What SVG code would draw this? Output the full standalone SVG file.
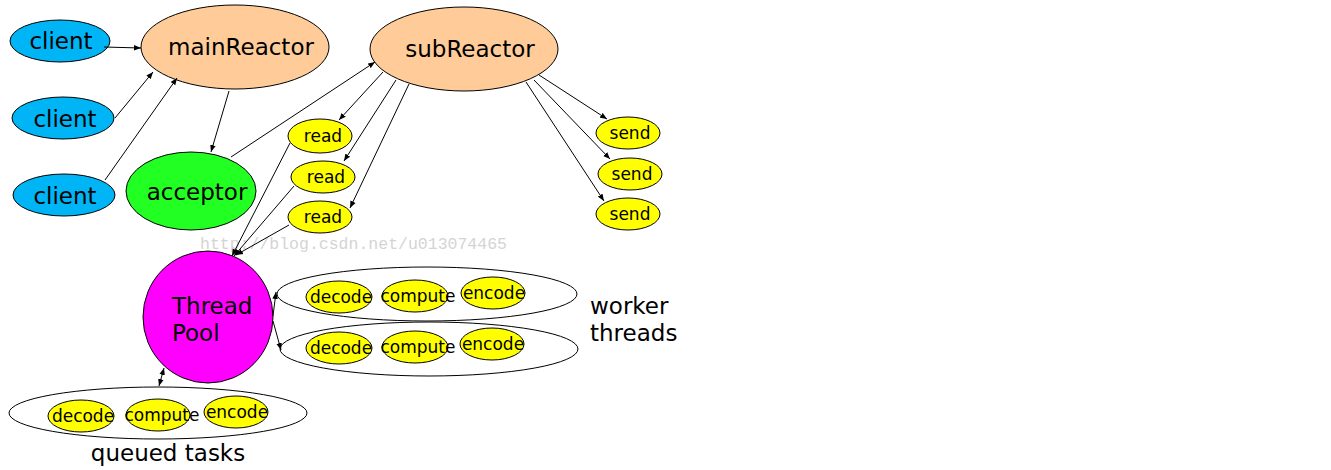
<svg xmlns="http://www.w3.org/2000/svg" width="1331" height="470" viewBox="0 0 1331 470">
<defs>
<marker id="ah" viewBox="0 0 10 10" refX="10" refY="5" markerWidth="7" markerHeight="7" orient="auto-start-reverse" markerUnits="userSpaceOnUse">
<path d="M0,1 L10,5 L0,9 z" fill="#000"/>
</marker>
<style>
.n{stroke:#000;stroke-width:1}
.t{font-family:"DejaVu Sans",Verdana,sans-serif;fill:#000}
.big{font-size:23px}
.sm{font-size:17px}
.xs{font-size:17px}
.c{fill:#00b5f5}
.r{fill:#ffcc99}
.a{fill:#22ff22}
.y{fill:#ffff00}
.p{fill:#ff00ff}
.w{fill:#fff}
.e{stroke:#000;stroke-width:1;fill:none;marker-end:url(#ah)}
</style>
</defs>
<rect width="1331" height="470" fill="#fff"/>
<g id="watermark"><text x="200" y="249" font-family="Liberation Mono,monospace" font-size="16.5" fill="#d4d4d4">http://blog.csdn.net/u013074465</text></g>
<g id="client1"><ellipse class="n c" cx="60" cy="41" rx="50" ry="21"/><text class="t big" x="61" y="49" text-anchor="middle">client</text></g>
<g id="client2"><ellipse class="n c" cx="63" cy="118" rx="51" ry="21"/><text class="t big" x="65" y="127" text-anchor="middle">client</text></g>
<g id="client3"><ellipse class="n c" cx="64" cy="195" rx="51" ry="21"/><text class="t big" x="65" y="204" text-anchor="middle">client</text></g>
<g id="mainReactor"><ellipse class="n r" cx="235" cy="47" rx="94" ry="42"/><text class="t big" x="241" y="55" text-anchor="middle">mainReactor</text></g>
<g id="acceptor"><ellipse class="n a" cx="191" cy="191" rx="65" ry="39"/><text class="t big" x="197" y="200" text-anchor="middle">acceptor</text></g>
<g id="subReactor"><ellipse class="n r" cx="464" cy="49" rx="94" ry="42"/><text class="t big" x="470" y="57" text-anchor="middle">subReactor</text></g>
<g id="read1"><ellipse class="n y" cx="320" cy="136" rx="32" ry="17"/><text class="t sm" x="323" y="142" text-anchor="middle">read</text></g>
<g id="read2"><ellipse class="n y" cx="323" cy="177" rx="32" ry="16"/><text class="t sm" x="326" y="183" text-anchor="middle">read</text></g>
<g id="read3"><ellipse class="n y" cx="320" cy="217" rx="32" ry="16"/><text class="t sm" x="323" y="223" text-anchor="middle">read</text></g>
<g id="send1"><ellipse class="n y" cx="628" cy="133" rx="32" ry="16"/><text class="t sm" x="630" y="139" text-anchor="middle">send</text></g>
<g id="send2"><ellipse class="n y" cx="630" cy="174" rx="32" ry="16"/><text class="t sm" x="632" y="180" text-anchor="middle">send</text></g>
<g id="send3"><ellipse class="n y" cx="628" cy="214" rx="32" ry="16"/><text class="t sm" x="630" y="220" text-anchor="middle">send</text></g>
<g id="threadPool"><ellipse class="n p" cx="208" cy="317" rx="65" ry="66"/><text class="t big" x="172" y="314">Thread</text><text class="t big" x="172" y="341">Pool</text></g>
<g id="workers1"><ellipse class="n w" cx="427" cy="294" rx="150" ry="27"/>
<ellipse class="n y" cx="339" cy="297" rx="33" ry="16"/>
<ellipse class="n y" cx="415" cy="296" rx="33" ry="16"/>
<ellipse class="n y" cx="493" cy="293" rx="32" ry="16"/>
<text class="t xs" x="341" y="303" text-anchor="middle">decode</text>
<text class="t xs" x="418" y="302" text-anchor="middle">compute</text>
<text class="t xs" x="494" y="299" text-anchor="middle">encode</text></g>
<g id="workers2"><ellipse class="n w" cx="429" cy="349" rx="149" ry="27"/>
<ellipse class="n y" cx="339" cy="348" rx="33" ry="16"/>
<ellipse class="n y" cx="415" cy="347" rx="33" ry="16"/>
<ellipse class="n y" cx="492" cy="344" rx="32" ry="16"/>
<text class="t xs" x="341" y="354" text-anchor="middle">decode</text>
<text class="t xs" x="418" y="353" text-anchor="middle">compute</text>
<text class="t xs" x="493" y="350" text-anchor="middle">encode</text></g>
<g id="queued"><ellipse class="n w" cx="158" cy="413" rx="149" ry="26"/>
<ellipse class="n y" cx="81" cy="416" rx="33" ry="16"/>
<ellipse class="n y" cx="158" cy="415" rx="32" ry="16"/>
<ellipse class="n y" cx="236" cy="412" rx="32" ry="16"/>
<text class="t xs" x="83" y="422" text-anchor="middle">decode</text>
<text class="t xs" x="162" y="421" text-anchor="middle">compute</text>
<text class="t xs" x="237" y="418" text-anchor="middle">encode</text></g>
<g id="labels">
<text class="t big" x="590" y="314">worker</text>
<text class="t big" x="590" y="341">threads</text>
<text class="t big" x="168" y="461" text-anchor="middle">queued tasks</text>
</g>
<g id="connectors">
<line class="e" x1="104" y1="47" x2="141" y2="48"/>
<line class="e" x1="115" y1="118" x2="153" y2="72"/>
<line class="e" x1="105" y1="180" x2="177" y2="78"/>
<line class="e" x1="229" y1="91" x2="211" y2="152"/>
<line class="e" x1="231" y1="157" x2="375" y2="62"/>
<line class="e" x1="383" y1="72" x2="339" y2="120"/>
<line class="e" x1="396" y1="80" x2="344" y2="161"/>
<line class="e" x1="409" y1="84" x2="350" y2="208"/>
<line class="e" x1="539" y1="75" x2="607" y2="119"/>
<line class="e" x1="534" y1="80" x2="610" y2="159"/>
<line class="e" x1="526" y1="82" x2="604" y2="201"/>
<line class="e" x1="290" y1="143" x2="232" y2="256"/>
<line class="e" x1="294" y1="186" x2="234" y2="256"/>
<line class="e" x1="289" y1="225" x2="236" y2="255"/>
<line class="e" x1="273" y1="316" x2="276" y2="292"/>
<line class="e" x1="273" y1="321" x2="281" y2="350"/>
<line class="e" x1="159" y1="386" x2="164" y2="368" style="marker-start:url(#ah)"/>
</g>
</svg>
